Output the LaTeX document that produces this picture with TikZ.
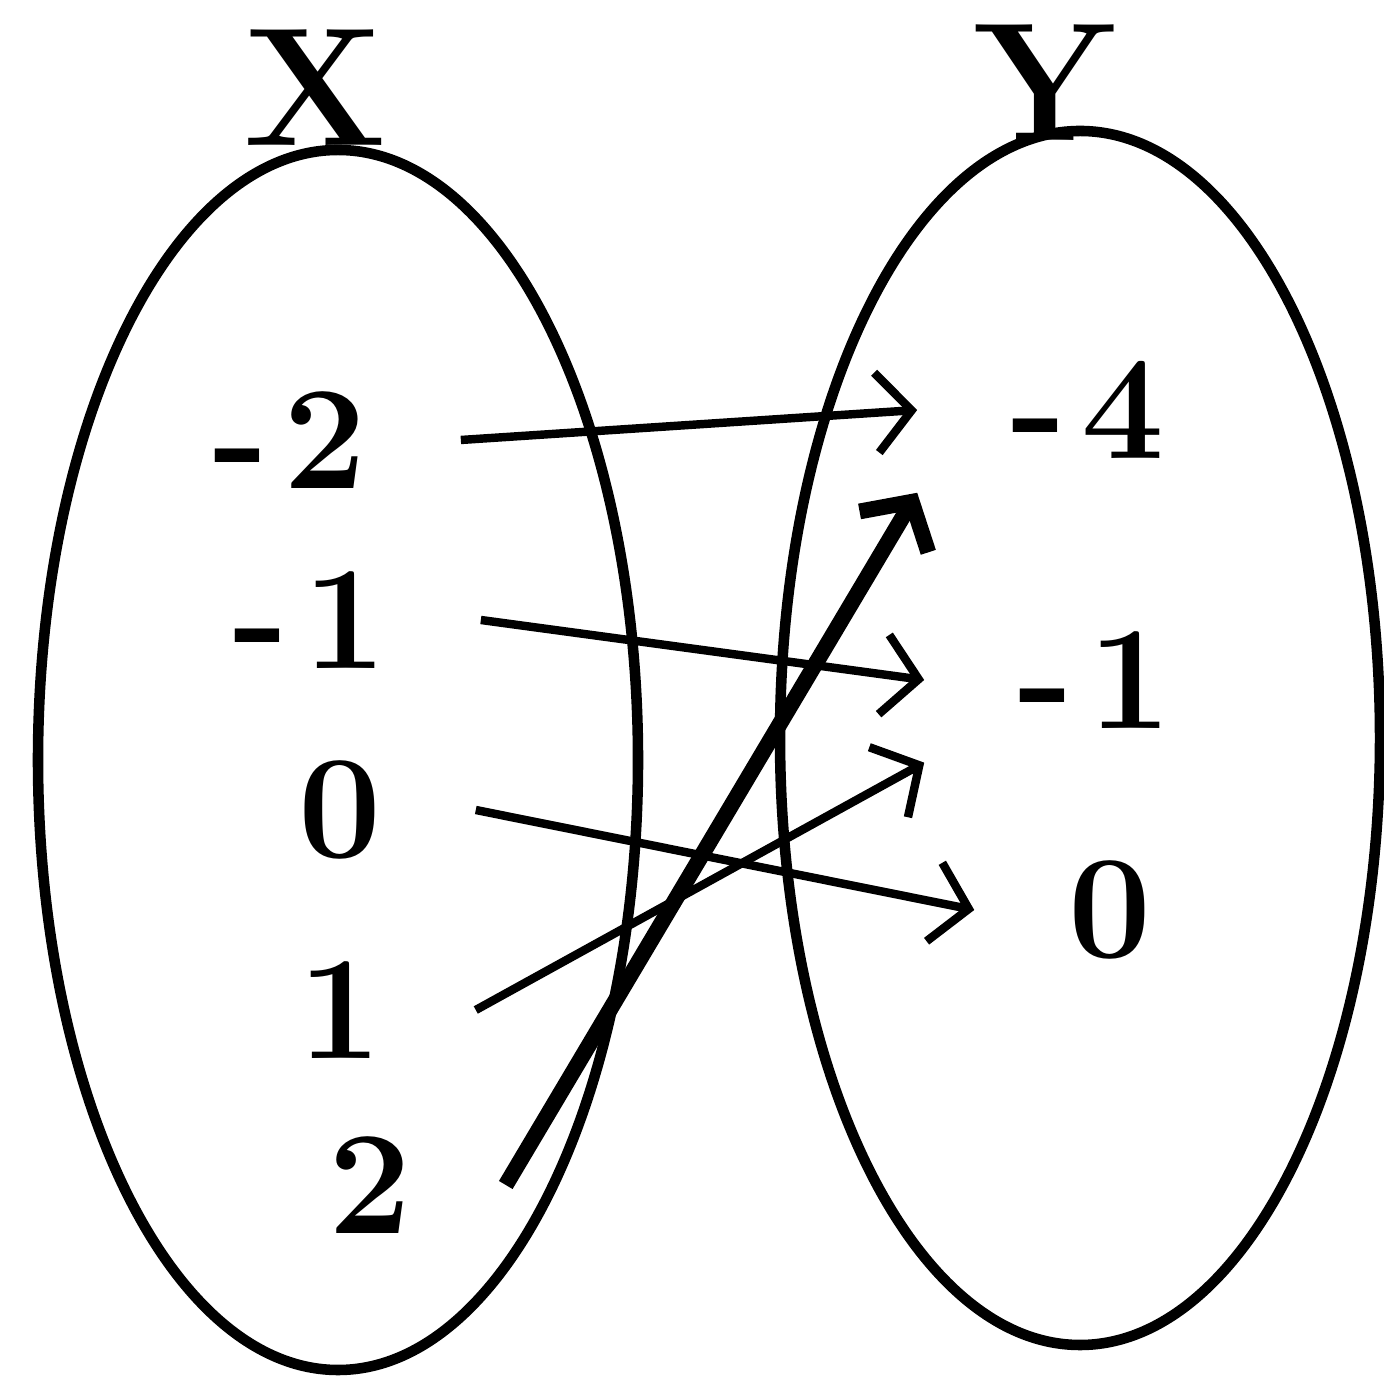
\documentclass[tikz,border=0pt]{standalone}
\usetikzlibrary{arrows.meta}
\begin{document}
\begin{tikzpicture}[line width=2.4pt,
  >={Straight Barb[length=3.5mm,width=8mm]},
  elem/.style={font=\fontsize{42}{50}\selectfont\bfseries, inner xsep=0.9cm, inner ysep=0.3cm},
  setname/.style={font=\fontsize{48}{56}\selectfont\bfseries}]
\useasboundingbox (0,0) rectangle (13.84,13.78);
% the two sets
\draw[line width=3pt] (3.38,6.18) ellipse [x radius=3.0, y radius=6.1];
\draw[line width=3pt] (10.8,6.40) ellipse [x radius=3.0, y radius=6.07];
\node[setname] (setx) at (3.15,12.9) {X};
\node[setname] (sety) at (10.45,12.95) {Y};
% domain
\node[elem] (xm2) at (2.9,9.38) {-\kern0.1em2};
\node[elem] (xm1) at (3.1,7.58) {-\kern0.1em1};
\node[elem] (x0) at (3.4,5.68) {0};
\node[elem] (x1) at (3.4,3.68) {1};
\node[elem] (x2) at (3.7,1.93) {2};
% range
\node[elem] (ym4) at (10.88,9.68) {-\kern0.1em4};
\node[elem] (ym1) at (10.95,6.98) {-\kern0.1em1};
\node[elem] (y0) at (11.1,4.68) {0};
% mapping
\draw[->] (xm2.east) -- (ym4.west);
\draw[->] (xm1.east) -- (ym1.west);
\draw[->] (x0.east) -- (y0.west);
\draw[->] (x1.east) -- (ym1.south west);
\draw[->,line width=4.5pt] (x2.east) -- (ym4.south west);
\end{tikzpicture}
\end{document}
